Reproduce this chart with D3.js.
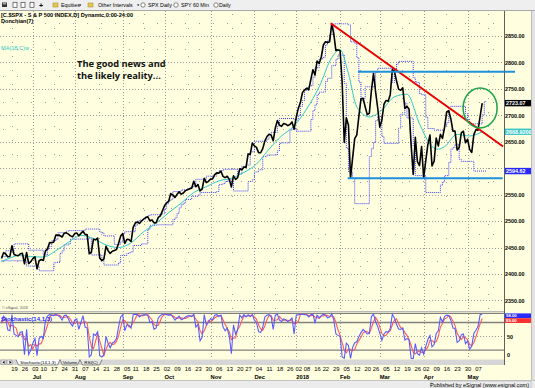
<!DOCTYPE html>
<html lang="en">
<head>
<meta charset="UTF-8">
<title>S&amp;P 500 daily - Donchian</title>
<script src="https://d3js.org/d3.v7.min.js"></script>
<style>
  body { margin: 0; background: #fff; }
  svg { display: block; font-family: "Liberation Sans", Arial, sans-serif; }
</style>
</head>
<body>
<svg id="chart" width="535" height="388"></svg>
<script>
// daily closes, 12 Jun 2017 .. 10 May 2018 (one row per week, index = trading day)
const closes = [
  2429.39, 2440.35, 2437.92, 2432.46, 2433.15,
  2453.46, 2437.03, 2435.61, 2434.50, 2438.30,
  2439.07, 2419.38, 2440.69, 2419.70, 2423.41,
  2429.01, 2432.54, 2409.75, 2425.18,
  2427.43, 2425.53, 2443.25, 2447.83, 2459.27,
  2459.14, 2460.61, 2473.83, 2473.45, 2472.54,
  2469.91, 2477.13, 2477.83, 2475.42, 2472.10,
  2470.30, 2476.35, 2477.57, 2472.16, 2476.83,
  2480.91, 2474.92, 2474.02, 2438.21, 2441.32,
  2465.84, 2464.61, 2468.11, 2430.01, 2425.55,
  2428.37, 2452.51, 2444.04, 2438.97, 2443.05,
  2444.24, 2446.30, 2457.59, 2471.65, 2476.55,
  2457.85, 2465.54, 2465.10, 2461.43,
  2488.11, 2496.48, 2498.37, 2495.62, 2500.23,
  2503.87, 2506.65, 2508.24, 2500.60, 2502.22,
  2496.66, 2496.84, 2507.04, 2510.06, 2519.36,
  2529.12, 2534.58, 2537.74, 2552.07, 2549.33,
  2544.73, 2550.64, 2555.24, 2550.93, 2553.17,
  2557.64, 2559.36, 2561.26, 2562.10, 2575.21,
  2564.98, 2569.13, 2557.15, 2560.40, 2581.07,
  2572.83, 2575.26, 2579.36, 2579.85, 2587.84,
  2591.13, 2590.64, 2594.38, 2584.62, 2582.30,
  2584.84, 2578.87, 2564.62, 2585.64, 2578.85,
  2582.14, 2599.03, 2597.08, 2602.42,
  2601.42, 2627.04, 2626.07, 2647.58, 2642.22,
  2639.44, 2629.57, 2629.27, 2636.98, 2651.50,
  2659.99, 2664.11, 2662.85, 2652.01, 2675.81,
  2690.16, 2681.47, 2679.25, 2684.57, 2683.34,
  2680.50, 2682.62, 2687.54, 2673.61,
  2695.81, 2713.06, 2723.99, 2743.15,
  2747.71, 2751.29, 2748.23, 2767.56, 2786.24,
  2776.42, 2802.56, 2798.03, 2810.30,
  2832.97, 2839.13, 2837.54, 2839.25, 2872.87,
  2853.53, 2822.43, 2823.81, 2821.98, 2762.13,
  2648.94, 2695.14, 2681.66, 2581.00, 2619.55,
  2656.00, 2662.94, 2698.63, 2731.20, 2732.22,
  2716.26, 2701.33, 2703.96, 2747.30,
  2779.60, 2744.28, 2713.83, 2677.67, 2691.25,
  2720.94, 2728.12, 2726.80, 2738.97, 2786.57,
  2783.02, 2765.31, 2749.48, 2747.33, 2752.01,
  2712.92, 2716.94, 2711.93, 2643.69, 2588.26,
  2658.55, 2612.62, 2605.00, 2640.87,
  2581.88, 2614.45, 2644.69, 2662.84, 2604.47,
  2613.16, 2656.87, 2642.19, 2663.99, 2656.30,
  2677.84, 2706.39, 2708.64, 2693.13, 2670.14,
  2670.29, 2634.56, 2639.40, 2666.94, 2669.91,
  2648.05, 2654.80, 2635.67, 2629.73, 2663.42,
  2672.63, 2671.92, 2697.79, 2723.07
];

// MA(18,C)w: [day, price]
const maLine = [
  [0, 2424], [4, 2430], [8, 2435], [14, 2433], [20, 2432], [26, 2444], [32, 2460],
  [38, 2473], [44, 2467], [50, 2455], [56, 2450], [62, 2459], [68, 2480], [74, 2496],
  [80, 2516], [86, 2534], [92, 2554], [98, 2565], [104, 2576], [110, 2581], [116, 2592],
  [122, 2608], [128, 2636], [134, 2661], [140, 2680], [146, 2712], [152, 2754], [158, 2809],
  [162, 2824], [166, 2779], [170, 2716], [176, 2697], [182, 2710], [188, 2735], [194, 2740],
  [200, 2684], [206, 2641], [209, 2636], [212, 2641], [218, 2664], [224, 2661], [230, 2668.9209]
];

// Donchian(7) channel, value from each day on: [day, price]
const donchUpper = [
  [0, 2433], [1, 2444], [5, 2457], [12, 2445], [19, 2436], [21, 2447], [22, 2452], [23, 2463],
  [25, 2465], [26, 2478], [30, 2481], [31, 2482], [39, 2485], [46, 2479], [47, 2478], [48, 2472],
  [53, 2456], [56, 2461], [57, 2476], [58, 2480], [63, 2492], [64, 2500], [65, 2502], [67, 2504],
  [68, 2508], [69, 2510], [70, 2512], [76, 2514], [77, 2523], [78, 2533], [79, 2538], [80, 2541],
  [81, 2556], [85, 2559], [88, 2561], [89, 2563], [90, 2565], [91, 2566], [92, 2579], [97, 2585],
  [102, 2591], [103, 2595], [105, 2598], [112, 2589], [114, 2603], [116, 2606], [118, 2631],
  [120, 2651], [126, 2655], [127, 2664], [128, 2668], [131, 2680], [132, 2694], [139, 2691],
  [141, 2700], [142, 2717], [143, 2728], [144, 2747], [145, 2752], [146, 2756], [148, 2772],
  [149, 2790], [151, 2807], [153, 2810], [154, 2833], [155, 2842], [156, 2853], [158, 2873],
  [165, 2871], [166, 2839], [168, 2836], [169, 2809], [170, 2763], [171, 2728], [172, 2732],
  [173, 2754], [178, 2781], [179, 2789], [186, 2762], [187, 2787], [188, 2797], [189, 2802],
  [196, 2771], [197, 2763], [198, 2762], [199, 2741], [200, 2739], [202, 2696], [203, 2675],
  [206, 2672], [211, 2680], [212, 2686], [213, 2713], [214, 2717], [221, 2703], [222, 2692],
  [223, 2684], [229, 2701], [230, 2726.11]
];
const donchLower = [
  [0, 2425], [11, 2415], [17, 2406], [24, 2421], [25, 2422], [27, 2439], [28, 2444], [29, 2455],
  [31, 2457], [32, 2466], [41, 2468], [42, 2436], [47, 2426], [48, 2417], [55, 2421], [56, 2435],
  [59, 2439], [60, 2440], [61, 2442], [62, 2454], [66, 2457], [69, 2484], [70, 2492], [73, 2493],
  [81, 2503], [82, 2506], [83, 2515], [84, 2525], [85, 2531], [86, 2534], [87, 2541], [90, 2547],
  [93, 2549], [94, 2554], [102, 2556], [103, 2569], [105, 2571], [106, 2575], [107, 2576],
  [108, 2578], [109, 2575], [110, 2557], [117, 2575], [119, 2578], [120, 2593], [122, 2597],
  [124, 2622], [126, 2625], [131, 2633], [132, 2647], [133, 2648], [137, 2672], [138, 2675],
  [140, 2670], [147, 2692], [148, 2709], [149, 2720], [150, 2739], [151, 2744], [154, 2764],
  [155, 2770], [157, 2794], [159, 2806], [160, 2814], [163, 2760], [164, 2638], [165, 2593],
  [167, 2581], [168, 2533], [175, 2622], [176, 2637], [177, 2649], [178, 2690], [179, 2698],
  [181, 2660], [182, 2647], [189, 2676], [190, 2702], [192, 2723], [193, 2695], [196, 2642],
  [197, 2586], [202, 2554], [209, 2568], [210, 2574], [211, 2586], [213, 2611], [214, 2636],
  [215, 2639], [216, 2645], [218, 2617], [219, 2613], [225, 2594.62]
];

// Stochastic(14,1,3): %K (blue) and %D (red), one row per week
const stochK = [
  80, 94, 88, 64, 62,   97, 55, 52, 49, 59,   60, 10, 65, 10, 20,   35, 45, 8, 45,
  50, 45, 84, 94, 97,   96, 95, 98, 95, 92,   85, 95, 96, 88, 78,   72, 85, 88, 65, 80,
  95, 70, 68, 5, 10,    55, 52, 60, 8, 5,     10, 50, 35, 25, 35,   38, 45, 70, 92, 97,
  62, 75, 74, 68,       97, 98, 97, 92, 96,   97, 97, 96, 80, 82,   65, 68, 90, 95, 98,
  98, 97, 96, 97, 92,   85, 90, 94, 86, 88,   92, 94, 95, 93, 98,   70, 76, 40, 48, 97,
  75, 80, 88, 86, 96,   97, 93, 96, 70, 62,   68, 50, 12, 75, 55,   65, 96, 90, 97,
  92, 97, 93, 97, 85,   80, 60, 58, 70, 92,   96, 97, 93, 65, 96,   98, 85, 82, 88, 86,
  82, 85, 90, 55,       95, 97, 98, 98,       97, 97, 92, 97, 98,   80, 96, 90, 95,
  98, 96, 90, 92, 99,   85, 55, 52, 50, 5,    2, 35, 30, 2, 26,     36, 38, 49, 58, 65,
  60, 55, 56, 93,       98, 82, 71, 57, 41,   55, 60, 59, 67, 98,   90, 76, 66, 65, 68,
  42, 45, 42, 2, 1,     34, 12, 9, 25,        11, 28, 43, 52, 27,   32, 56, 62, 91, 81,
  93, 96, 95, 85, 68,   67, 37, 40, 53, 55,   34, 40, 22, 29, 56,   63, 71, 97, 98
];
const stochD = [
  78, 85, 87, 82, 71,   74, 71, 68, 52, 53,   56, 43, 45, 28, 32,   22, 33, 29, 33,
  34, 47, 60, 74, 92,   96, 96, 96, 96, 95,   91, 91, 92, 93, 87,   79, 78, 82, 79, 78,
  80, 82, 78, 48, 28,   23, 39, 56, 40, 24,   8, 22, 32, 37, 32,    33, 39, 51, 69, 86,
  84, 78, 70, 72,       80, 88, 97, 96, 95,   95, 97, 97, 91, 86,   76, 72, 74, 84, 94,
  97, 98, 97, 97, 95,   91, 89, 90, 90, 89,   89, 91, 94, 94, 95,   87, 81, 62, 55, 62,
  73, 84, 81, 85, 90,   93, 95, 95, 86, 76,   67, 60, 43, 46, 47,   65, 72, 84, 94,
  93, 95, 94, 96, 92,   87, 75, 66, 63, 73,   86, 95, 95, 85, 85,   86, 93, 88, 85, 85,
  85, 84, 86, 77,       80, 82, 97, 98,       98, 97, 95, 95, 96,   92, 91, 89, 94,
  94, 96, 95, 93, 94,   92, 80, 64, 52, 36,   19, 14, 22, 22, 19,   21, 33, 41, 48, 57,
  61, 60, 57, 68,       82, 91, 84, 70, 56,   51, 52, 58, 62, 75,   85, 88, 77, 69, 66,
  58, 52, 43, 30, 15,   12, 16, 18, 15,       15, 21, 27, 41, 41,   37, 38, 50, 70, 78,
  88, 90, 95, 92, 83,   73, 57, 48, 43, 49,   47, 43, 32, 30, 36,   49, 63, 77, 89
];

// drawn annotations: [day, price]
const trendLine = [[157.5, 2874], [240, 2641]];
const resistanceLine = [[170.6, 2782.5], [245.7, 2782.5]];
const supportLine = [[165.6, 2581], [239.8, 2581]];
const circleAt = [229, 2714];

// axis labels (2600.00 sits under the Donchian tag in the original, so it gets no label)
const gridTicks = [2350, 2400, 2450, 2500, 2550, 2600, 2650, 2700, 2750, 2800, 2850];
const priceLabels = [2350, 2400, 2450, 2500, 2550, 2650, 2700, 2750, 2800, 2850];
const stochTicks = [0, 50];
const weekIdx = [5, 10, 15, 19, 24, 29, 34, 39, 44, 49, 54, 59, 63, 68, 73, 78, 83, 88, 93, 98,
  103, 108, 113, 117, 122, 127, 132, 137, 141, 145, 150, 154, 159, 164, 169, 174, 178, 183, 188,
  193, 198, 202, 207, 212, 217, 222, 227];
const weekLabels = ["19", "26", "03", "10", "17", "24", "31", "07", "14", "21", "28", "05", "11",
  "18", "25", "02", "09", "16", "23", "30", "06", "13", "20", "27", "04", "11", "18", "26", "02",
  "08", "16", "22", "29", "05", "12", "20", "26", "05", "12", "19", "26", "02", "09", "16", "23",
  "30", "07"];
const monthIdx = [15, 35, 58, 78, 100, 121, 141, 162, 181, 202, 223];
const monthLabels = ["Jul", "Aug", "Sep", "Oct", "Nov", "Dec", "2018", "Feb", "Mar", "Apr", "May"];

//////////////////////////////////////////////////////////////////////////
const svg = d3.select("#chart");
const bg = "#ffffe0";
const plotRight = 504;
const priceTop = 11, priceBottom = 311;
const stochTop = 311.5, stochBottom = 359.3;

const x = d3.scaleLinear().domain([0, 240]).range([1.5, 503.1]);
const y = d3.scaleLinear().domain([2400, 2850]).range([274, 36]);
const ys = d3.scaleLinear().domain([0, 100]).range([359.3, 313.3]);
const crisp = v => Math.round(v) + 0.5;

// window + panels
svg.append("rect").attr("width", 535).attr("height", 388).attr("fill", "#ececec");
svg.append("rect").attr("x", 0).attr("y", 10).attr("width", 531).attr("height", 370).attr("fill", bg);

const defs = svg.append("defs");
defs.append("clipPath").attr("id", "priceClip").append("rect")
  .attr("x", 0).attr("y", priceTop).attr("width", plotRight).attr("height", priceBottom - priceTop);
defs.append("clipPath").attr("id", "stochClip").append("rect")
  .attr("x", 0).attr("y", stochTop).attr("width", plotRight).attr("height", stochBottom - stochTop);

// grid
const grid = svg.append("g").attr("shape-rendering", "crispEdges");
const minorIdx = [5].concat(d3.pairs(monthIdx).map(p => (p[0] + p[1]) / 2), [233]);

gridTicks.forEach(p => {
  grid.append("line").attr("x1", 0).attr("x2", plotRight)
    .attr("y1", crisp(y(p))).attr("y2", crisp(y(p)))
    .attr("stroke", "#9a9a9a").attr("stroke-dasharray", "1,2");
});
d3.range(2375, 2900, 50).forEach(p => {
  grid.append("line").attr("x1", 3).attr("x2", plotRight)
    .attr("y1", crisp(y(p))).attr("y2", crisp(y(p)))
    .attr("stroke", "#9a9a9a").attr("stroke-dasharray", "1,13");
});
monthIdx.forEach(i => {
  grid.append("line").attr("x1", crisp(x(i))).attr("x2", crisp(x(i)))
    .attr("y1", priceTop).attr("y2", stochBottom)
    .attr("stroke", "#9a9a9a").attr("stroke-dasharray", "1,2");
});
minorIdx.forEach(i => {
  grid.append("line").attr("x1", crisp(x(i))).attr("x2", crisp(x(i)))
    .attr("y1", priceTop + 3).attr("y2", priceBottom)
    .attr("stroke", "#9a9a9a").attr("stroke-dasharray", "1,13");
});
grid.append("line").attr("x1", 0).attr("x2", plotRight)
  .attr("y1", crisp(ys(50))).attr("y2", crisp(ys(50)))
  .attr("stroke", "#9a9a9a").attr("stroke-dasharray", "1,2");

// price panel
const price = svg.append("g").attr("clip-path", "url(#priceClip)");
const line = d3.line().x(d => x(d[0])).y(d => y(d[1]));

function stepPoints(arr) {
  const pts = [[0, arr[0][1]]].concat(arr.map(d => [d[0] + 1, d[1]]));
  pts.push([closes.length + 1, arr[arr.length - 1][1]]);
  return pts;
}
[donchUpper, donchLower].forEach(band => {
  price.append("path")
    .attr("d", line.curve(d3.curveStepAfter)(stepPoints(band)))
    .attr("fill", "none").attr("stroke", "#3c3cff")
    .attr("stroke-width", 1).attr("stroke-dasharray", "1,1");
});

price.append("path")
  .attr("d", line.curve(d3.curveMonotoneX)(maLine))
  .attr("fill", "none").attr("stroke", "#2ec8c8").attr("stroke-width", 1);

price.append("path")
  .attr("d", line.curve(d3.curveLinear)(closes.map((c, i) => [i, c])))
  .attr("fill", "none").attr("stroke", "#000").attr("stroke-width", 1.6)
  .attr("stroke-linejoin", "round");

const notes = svg.append("g");
notes.append("path").attr("d", line.curve(d3.curveLinear)(trendLine))
  .attr("stroke", "#e80000").attr("stroke-width", 2).attr("fill", "none");
notes.append("path").attr("d", line(resistanceLine))
  .attr("stroke", "#1e90dc").attr("stroke-width", 2).attr("fill", "none");
notes.append("path").attr("d", line(supportLine))
  .attr("stroke", "#1e90dc").attr("stroke-width", 2).attr("fill", "none");
notes.append("ellipse")
  .attr("cx", x(circleAt[0])).attr("cy", y(circleAt[1]))
  .attr("rx", 17).attr("ry", 20)
  .attr("fill", "none").attr("stroke", "#1aa34a").attr("stroke-width", 1.5);

// stochastic panel
const stoch = svg.append("g").attr("clip-path", "url(#stochClip)");
[100, 80, 20].forEach(v => {
  stoch.append("line").attr("x1", 0).attr("x2", plotRight)
    .attr("y1", ys(v)).attr("y2", ys(v))
    .attr("stroke", "#808080").attr("stroke-width", 1.3);
});
const sline = d3.line().x((d, i) => x(i)).y(d => ys(d));
stoch.append("path").attr("d", sline(stochD))
  .attr("fill", "none").attr("stroke", "#ff5a5a").attr("stroke-width", 1.1);
stoch.append("path").attr("d", sline(stochK))
  .attr("fill", "none").attr("stroke", "#5a5aff").attr("stroke-width", 1.1);

// separators
svg.append("line").attr("x1", 0).attr("x2", plotRight).attr("y1", 311.5).attr("y2", 311.5)
  .attr("stroke", "#b8b8b8");
svg.append("line").attr("x1", plotRight + 0.5).attr("x2", plotRight + 0.5)
  .attr("y1", 10).attr("y2", 365).attr("stroke", "#606060");

// right price axis
const priceAxis = d3.axisRight(y).tickValues(priceLabels).tickSize(0).tickPadding(1)
  .tickFormat(d3.format(".2f"));
const pa = svg.append("g").attr("transform", `translate(${plotRight},0)`).call(priceAxis);
pa.select(".domain").remove();
pa.selectAll("text").attr("font-size", 5.4).attr("font-family", "Liberation Sans, Arial")
  .attr("fill", "#000").attr("font-weight", "bold");

const stochAxis = d3.axisRight(ys).tickValues(stochTicks).tickSize(0).tickPadding(3)
  .tickFormat(d3.format("d"));
const sa = svg.append("g").attr("transform", `translate(${plotRight},0)`).call(stochAxis);
sa.select(".domain").remove();
sa.selectAll("text").attr("font-size", 5.4).attr("font-family", "Liberation Sans, Arial")
  .attr("fill", "#000").attr("font-weight", "bold")
  .filter(d => d === 0).attr("dy", "-0.5em");

// value tags on the axis
const lastClose = closes[closes.length - 1];
const lastMa = maLine[maLine.length - 1][1];
const lastLow = donchLower[donchLower.length - 1][1];
const tagLayer = svg.append("g");
function tag(cy, h, fill, text, size) {
  tagLayer.append("rect").attr("x", plotRight + 1).attr("y", cy - h / 2)
    .attr("width", 26).attr("height", h).attr("fill", fill);
  tagLayer.append("text").attr("x", plotRight + 2).attr("y", cy + size * 0.36)
    .attr("font-size", size).attr("font-weight", "bold").attr("fill", "#fff").text(text);
}
tag(y(lastClose), 6.4, "#000", d3.format(".2f")(lastClose), 5.4);
tag(y(lastMa), 6.4, "#3cc8c8", d3.format(".4f")(lastMa), 5.4);
tag(y(lastLow), 6.4, "#2828ff", d3.format(".2f")(lastLow), 5.4);
const kY = Math.max(ys(stochK[stochK.length - 1]), 315.8);
const dY = Math.max(ys(stochD[stochD.length - 1]), kY + 4.8);
tag(kY, 4.8, "#2a2aff", d3.format(".2f")(stochK[stochK.length - 1]), 4.3);
tag(dY, 4.8, "#ff3030", d3.format(".2f")(stochD[stochD.length - 1]), 4.3);

// panel texts
const txt = svg.append("g");
txt.append("text").attr("x", 1).attr("y", 17).attr("font-size", 5.6).attr("font-weight", "bold")
  .text("[C.$SPX - S & P 500 INDEX,D] Dynamic,0:00-24:00");
txt.append("text").attr("x", 1).attr("y", 23).attr("font-size", 5.6).attr("font-weight", "bold")
  .text("Donchian(7)");
txt.append("text").attr("x", 1).attr("y", 50).attr("font-size", 5.6).attr("fill", "#2ec8c8")
  .text("MA(18,C)w");
txt.append("text").attr("x", 77).attr("y", 67).attr("font-size", 9.3).attr("font-weight", 700)
  .attr("font-family", "Open Sans").attr("fill", "#111").text("The good news and");
txt.append("text").attr("x", 77).attr("y", 79).attr("font-size", 9.3).attr("font-weight", 700)
  .attr("font-family", "Open Sans").attr("fill", "#111").text("the likely reality...");
txt.append("text").attr("x", 2).attr("y", 309).attr("font-size", 3.6).attr("fill", "#555")
  .text("© eSignal, 2018");
txt.append("text").attr("x", 1).attr("y", 321).attr("font-size", 6).attr("font-weight", "bold")
  .attr("fill", "#2a2aff").text("Stochastic(14,1,3)");

// tab strip under the panels
const tabs = svg.append("g");
tabs.append("rect").attr("x", 0).attr("y", 359.5).attr("width", plotRight).attr("height", 5.5)
  .attr("fill", "#d6d6d6");
[[1, "M4.5,360.7 L2.5,362.3 L4.5,363.9Z"], [7, "M9.5,360.7 L11.5,362.3 L9.5,363.9Z"]].forEach(b => {
  tabs.append("rect").attr("x", b[0]).attr("y", 360).attr("width", 5).attr("height", 4.6)
    .attr("fill", "#eee").attr("stroke", "#777").attr("stroke-width", 0.5);
  tabs.append("path").attr("d", b[1]).attr("fill", "#000");
});
[[16, 60, "Stochastic(14,1,3)", "#fff"], [60, 80, "Volume", "#e8e8e8"], [80, 102, "RSI(C)", "#e8e8e8"]]
  .forEach(t => {
    tabs.append("path")
      .attr("d", `M${t[0]},359.6 L${t[0] + 2.5},365 L${t[1] - 2.5},365 L${t[1]},359.6`)
      .attr("fill", t[3]).attr("stroke", "#444").attr("stroke-width", 0.6);
    tabs.append("text").attr("x", (t[0] + t[1]) / 2).attr("y", 363.8).attr("text-anchor", "middle")
      .attr("font-size", 4.4).text(t[2]);
  });

// date axis
const dateAxis = d3.axisBottom(x).tickValues(weekIdx).tickSize(0).tickPadding(0)
  .tickFormat((d, i) => weekLabels[i]);
const da = svg.append("g").attr("transform", "translate(2,367)").call(dateAxis);
da.select(".domain").remove();
da.selectAll("text").attr("font-size", 5.8).attr("font-family", "Liberation Sans, Arial")
  .attr("fill", "#000");
svg.append("g").selectAll("text").data(monthIdx).join("text")
  .attr("x", d => x(d)).attr("y", 379)
  .attr("font-size", 5.8).attr("font-weight", "bold")
  .text((d, i) => monthLabels[i]);

// status bar + scrollbar
svg.append("rect").attr("x", 0).attr("y", 380).attr("width", 535).attr("height", 8).attr("fill", "#ececec");
svg.append("line").attr("x1", 0).attr("x2", 535).attr("y1", 380.5).attr("y2", 380.5).attr("stroke", "#c4c4c4");
svg.append("rect").attr("x", 431).attr("y", 381).attr("width", 100).attr("height", 7)
  .attr("fill", "none").attr("stroke", "#b0b0b0").attr("stroke-width", 0.6);
svg.append("text").attr("x", 529).attr("y", 386.6).attr("text-anchor", "end").attr("font-size", 5.5)
  .text("Published by eSignal (www.esignal.com)");
svg.append("rect").attr("x", 531).attr("y", 10).attr("width", 4).attr("height", 370).attr("fill", "#e2e2e2");
svg.append("line").attr("x1", 531.5).attr("x2", 531.5).attr("y1", 10).attr("y2", 380).attr("stroke", "#bcbcbc");

// toolbar
const tb = svg.append("g");
tb.append("rect").attr("width", 535).attr("height", 10).attr("fill", "#efefef");
tb.append("line").attr("x1", 0).attr("x2", 535).attr("y1", 10.5).attr("y2", 10.5).attr("stroke", "#a8a8a8");
tb.append("rect").attr("x", 2).attr("y", 2.5).attr("width", 5).attr("height", 4.5).attr("fill", "#333");
tb.append("rect").attr("x", 2.8).attr("y", 3.3).attr("width", 3.4).attr("height", 1).attr("fill", "#ddd");
[13, 21, 30].forEach(px => {
  tb.append("rect").attr("x", px).attr("y", 2.3).attr("width", 4).attr("height", 5)
    .attr("fill", "#fff").attr("stroke", "#444").attr("stroke-width", 0.7);
});
tb.append("text").attr("x", 39).attr("y", 7.8).attr("font-size", 7).attr("font-weight", "bold").text("+");
[53, 88].forEach(px => {
  tb.append("rect").attr("x", px).attr("y", 3).attr("width", 5).attr("height", 4)
    .attr("fill", "#e8c850").attr("stroke", "#a08020").attr("stroke-width", 0.5);
});
[141, 174, 214].forEach(px => {
  tb.append("circle").attr("cx", px + 2).attr("cy", 5).attr("r", 2.2)
    .attr("fill", "#fff").attr("stroke", "#555").attr("stroke-width", 0.7);
});
[[61, "Equities"], [98, "Other Intervals"], [148, "SPX Daily"], [181, "SPY 60 Min"], [219, "Daily"]]
  .forEach(t => tb.append("text").attr("x", t[0]).attr("y", 7.2).attr("font-size", 5.3).text(t[1]));
[79, 137].forEach(px => {
  tb.append("path").attr("d", `M${px},4.6 L${px + 2.4},4.6 L${px + 1.2},6Z`).attr("fill", "#000");
});
</script>
</body>
</html>
